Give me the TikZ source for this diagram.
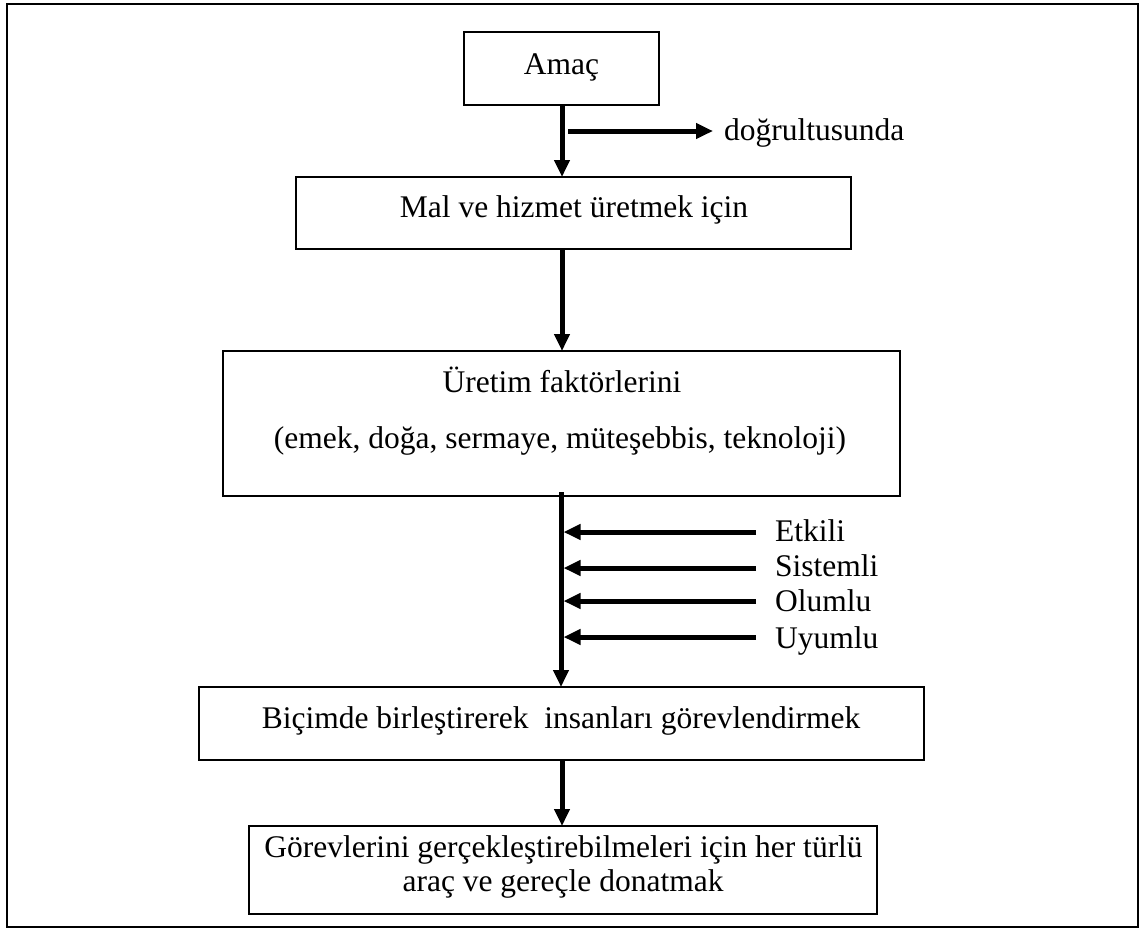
\documentclass[tikz,border=0pt]{standalone}
\usepackage{fontspec}
\setmainfont{Liberation Serif}
\usetikzlibrary{arrows.meta}
\begin{document}
\begin{tikzpicture}[x=1pt,y=-1pt,
  box/.style={draw,line width=2pt,rectangle,inner sep=0pt},
  txt/.style={inner sep=0pt,anchor=base,font=\fontsize{31.5}{34}\selectfont},
  ltxt/.style={txt,anchor=base west},
  flow/.style={line width=5pt,-{Triangle[length=17pt,width=15pt]}}]
\useasboundingbox (0,0) rectangle (1141,930);
% frame
\draw[line width=2.5pt] (7,4) rectangle (1138,927);

% boxes
\node[box,minimum width=195pt,minimum height=73pt] (amac) at (561.5,68.5) {};
\node[box,minimum width=555pt,minimum height=72pt] (mal) at (573.5,213) {};
\node[box,minimum width=677pt,minimum height=145pt] (uretim) at (561.5,423.5) {};
\node[box,minimum width=725pt,minimum height=73pt] (bicim) at (561.5,723.5) {};
\node[box,minimum width=628pt,minimum height=88pt] (gorev) at (563,870) {};

% box texts
\node[txt] (tamac) at (561.5,74) {Amaç};
\node[txt] (tmal) at (574,217) {Mal ve hizmet üretmek için};
\node[txt] (turetimA) at (562,392) {Üretim faktörlerini};
\node[txt] (turetimB) at (560,448) {(emek, doğa, sermaye, müteşebbis, teknoloji)};
\node[txt] (tbicim) at (561,728) {Biçimde birleştirerek\ \ insanları görevlendirmek};
\node[txt] (tgorevA) at (563.5,857) {Görevlerini gerçekleştirebilmeleri için her türlü};
\node[txt] (tgorevB) at (563,891) {araç ve gereçle donatmak};

% main flow
\draw[flow] (562,105) -- (562,177);
\draw[flow] (562,249) -- (562,351);
\draw[flow] (561,492) -- (561,687);
\draw[flow] (562,760) -- (562,826);

% side branch
\coordinate (dstart) at (568,131);
\node[ltxt] (tdog) at (724,140) {doğrultusunda};
\draw[flow] (dstart) -- (713,131);

% qualifiers feeding the flow
\node[ltxt] (tetk) at (775,541.5) {Etkili};
\node[ltxt] (tsis) at (775,576.5) {Sistemli};
\node[ltxt] (tolu) at (775,611.5) {Olumlu};
\node[ltxt] (tuyu) at (775,648) {Uyumlu};
\coordinate (e1) at (756,532);
\coordinate (e2) at (756,568);
\coordinate (e3) at (756,601);
\coordinate (e4) at (756,637);
\draw[flow] (e1) -- (563.5,532);
\draw[flow] (e2) -- (563.5,568);
\draw[flow] (e3) -- (563.5,601);
\draw[flow] (e4) -- (563.5,637);
\end{tikzpicture}
\end{document}
